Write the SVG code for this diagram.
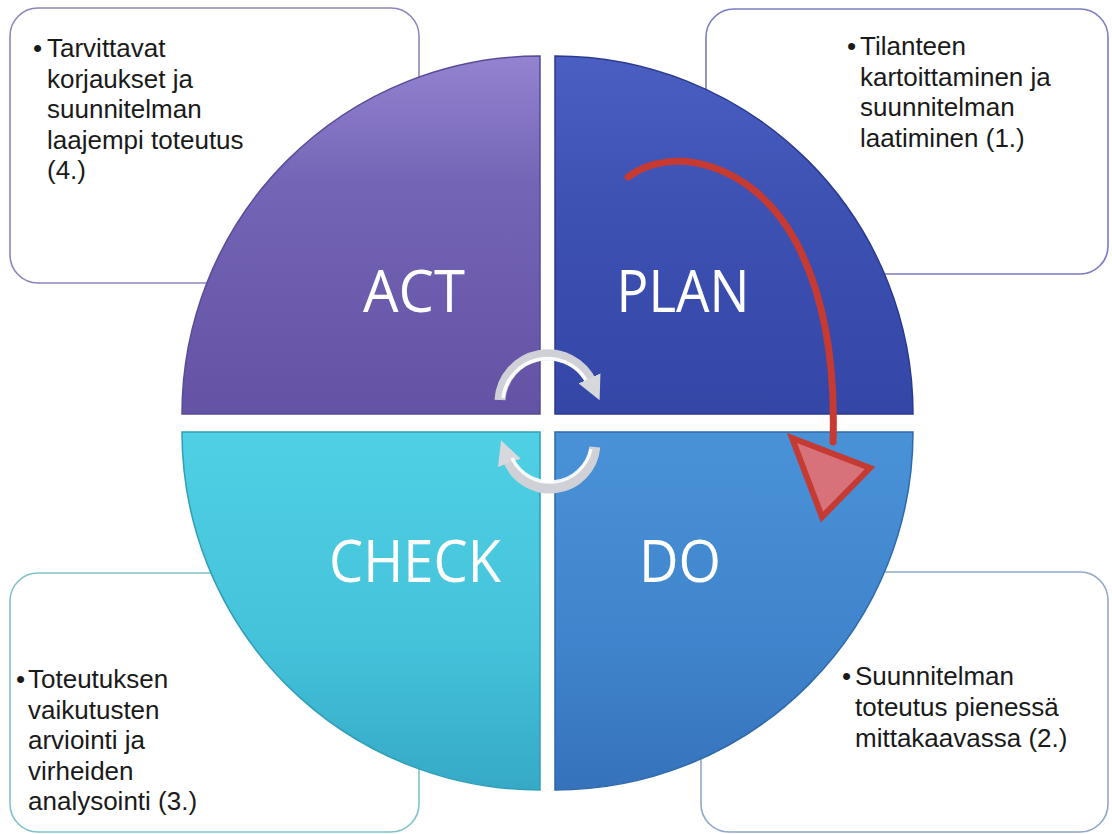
<svg xmlns="http://www.w3.org/2000/svg" width="1112" height="834" viewBox="0 0 1112 834">
<style>
.box{fill:#ffffff;stroke-width:1.6}
.body{font-family:"Liberation Sans",Arial,sans-serif;font-size:26px;fill:#1a1a1a}
.lbl{font-family:"Open Sans","Liberation Sans",sans-serif;font-size:58px;fill:#ffffff;text-anchor:middle}
.cyc{fill:none;stroke:#cfd1d6;stroke-width:11}
.cych{fill:none;stroke:#ffffff;stroke-width:3.5;opacity:0.9}
</style>
<defs>
<linearGradient id="gAct" x1="0" y1="0" x2="0" y2="1"><stop offset="0" stop-color="#9383d0"/><stop offset="0.35" stop-color="#7565b6"/><stop offset="1" stop-color="#6452a4"/></linearGradient>
<linearGradient id="gPlan" x1="0" y1="0" x2="0" y2="1"><stop offset="0" stop-color="#4b5fc2"/><stop offset="0.4" stop-color="#3e52b4"/><stop offset="1" stop-color="#3446a6"/></linearGradient>
<linearGradient id="gCheck" x1="0" y1="0" x2="0" y2="1"><stop offset="0" stop-color="#4fd0e4"/><stop offset="0.6" stop-color="#44c2da"/><stop offset="1" stop-color="#36a9c6"/></linearGradient>
<linearGradient id="gDo" x1="0" y1="0" x2="0" y2="1"><stop offset="0" stop-color="#4a92d8"/><stop offset="0.6" stop-color="#3f84cc"/><stop offset="1" stop-color="#3672bc"/></linearGradient>
<marker id="cycHead" viewBox="0 0 10 10" refX="2" refY="5" markerWidth="2.2" markerHeight="2.2" orient="auto" markerUnits="strokeWidth">
<path d="M0,0 L10,5 L0,10 Z" fill="#d6d8dc"/>
</marker>
</defs>
<rect width="1112" height="834" fill="#ffffff"/>

<g id="box-act">
<rect class="box" x="10" y="8" width="409" height="275" rx="28" stroke="#8c86bd"/>
<text class="body" x="33" y="57">•</text>
<text class="body"><tspan x="47" y="57">Tarvittavat</tspan><tspan x="47" y="87.5">korjaukset ja</tspan><tspan x="47" y="118">suunnitelman</tspan><tspan x="47" y="148.5">laajempi toteutus</tspan><tspan x="47" y="179">(4.)</tspan></text>
</g>
<g id="box-plan">
<rect class="box" x="706" y="9" width="402" height="265" rx="28" stroke="#7b7cc4"/>
<text class="body" x="847" y="55">•</text>
<text class="body"><tspan x="860" y="55">Tilanteen</tspan><tspan x="860" y="85.5">kartoittaminen ja</tspan><tspan x="860" y="116">suunnitelman</tspan><tspan x="860" y="146.5">laatiminen (1.)</tspan></text>
</g>
<g id="box-check">
<rect class="box" x="10" y="573" width="409" height="259" rx="28" stroke="#7fc3c9"/>
<text class="body" x="16" y="688">•</text>
<text class="body"><tspan x="28" y="688">Toteutuksen</tspan><tspan x="28" y="718.5">vaikutusten</tspan><tspan x="28" y="749">arviointi ja</tspan><tspan x="28" y="779.5">virheiden</tspan><tspan x="28" y="810">analysointi (3.)</tspan></text>
</g>
<g id="box-do">
<rect class="box" x="701" y="572" width="407" height="260" rx="28" stroke="#8fa8cc"/>
<text class="body" x="842" y="685">•</text>
<text class="body"><tspan x="855" y="685">Suunnitelman</tspan><tspan x="855" y="716">toteutus pienessä</tspan><tspan x="855" y="747">mittakaavassa (2.)</tspan></text>
</g>

<g id="act">
<path d="M540,414 L182,414 A358,358 0 0 1 540,56 Z" fill="url(#gAct)" stroke="#5a4a98" stroke-width="1.5"/>
<text class="lbl" x="414" y="312" textLength="102" lengthAdjust="spacingAndGlyphs">ACT</text>
</g>
<g id="plan">
<path d="M555,414 L555,56 A358,358 0 0 1 913,414 Z" fill="url(#gPlan)" stroke="#2a3a90" stroke-width="1.5"/>
<text class="lbl" x="683" y="312" textLength="133" lengthAdjust="spacingAndGlyphs">PLAN</text>
</g>
<g id="check">
<path d="M540,432 L540,790 A358,358 0 0 1 182,432 Z" fill="url(#gCheck)" stroke="#2f9fb8" stroke-width="1.5"/>
<text class="lbl" x="415" y="582" textLength="172" lengthAdjust="spacingAndGlyphs">CHECK</text>
</g>
<g id="do">
<path d="M555,432 L913,432 A358,358 0 0 1 555,790 Z" fill="url(#gDo)" stroke="#2f6aaa" stroke-width="1.5"/>
<text class="lbl" x="680" y="582" textLength="82" lengthAdjust="spacingAndGlyphs">DO</text>
</g>

<g id="connectors">
<g id="cycle-arrows">
<path class="cyc" d="M500,400 A48,48 0 0 1 591.5,382.7" marker-end="url(#cycHead)"/>
<path class="cych" d="M503,398 A45,45 0 0 1 586,380"/>
<path class="cyc" d="M594.8,446.9 A45,45 0 0 1 507.7,458.4" marker-end="url(#cycHead)"/>
<path class="cych" d="M591,449 A42,42 0 0 1 512,458"/>
</g>
<g id="red-arrow">
<path d="M628,177 C670,145 752,160 796,242 C830,306 835,380 833,442" fill="none" stroke="#c73a32" stroke-width="7" stroke-linecap="round"/>
<polygon points="792,438 870,468 822,517" fill="#d8727a" stroke="#c53a33" stroke-width="6" stroke-linejoin="miter"/>
</g>
</g>
</svg>
